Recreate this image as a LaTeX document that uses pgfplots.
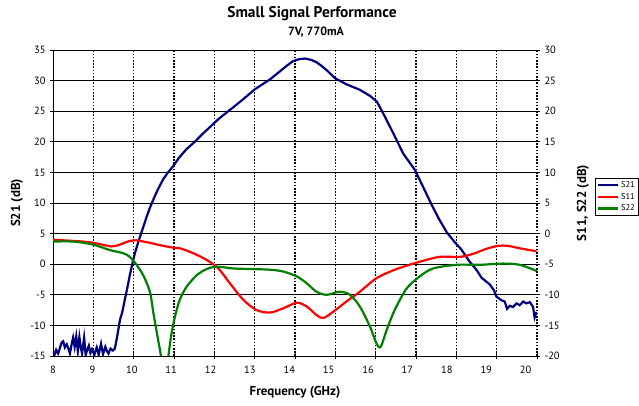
\documentclass[border=0pt]{standalone}
\usepackage{pgfplots}
\pgfplotsset{compat=1.18}
\usepackage{fontspec}
\setmainfont{PT Sans}
\definecolor{cS21}{RGB}{0,0,128}
\definecolor{cS11}{RGB}{255,0,0}
\definecolor{cS22}{RGB}{0,128,0}
\pgfplotsset{
  common/.style={
    at={(0,0)}, anchor=south west,
    scale only axis, width=484bp, height=306bp,
    xmin=8, xmax=20.29,
    /pgf/number format/assume math mode=true,
    tick label style={font=\fontsize{10.5}{12}\selectfont},
    clip=true,
  }
}
\begin{document}
\begin{tikzpicture}
\path[use as bounding box] (-53bp,-50bp) rectangle (586bp,356bp);
% horizontal grid
\begin{axis}[common, ymin=-15, ymax=35,
  xtick=\empty, ytick={-15,-10,...,35}, yticklabels={},
  ymajorgrids, grid style={black, line width=0.7bp},
  axis line style={draw=none}, tick style={draw=none}]
\end{axis}
% left axis, vertical dotted grid, S21
\begin{axis}[common, ymin=-15, ymax=35,
  axis x line*=bottom, axis y line*=left,
  axis line style={black, line width=0.8bp},
  xtick={9.024,10.048,11.073,12.097,13.121,14.145,15.169,16.193,17.218,18.242,19.266,20.29},
  xticklabels={},
  xmajorgrids,
  grid style={black, line width=1.6bp, dash pattern=on 1.6bp off 1.6bp},
  extra x ticks={8,9,...,20},
  extra x tick style={grid=none, tick style={draw=none}},
  ytick={-15,-10,...,35},
  tick align=center, major tick length=6bp,
  tick style={black, line width=0.8bp},
  xticklabel style={yshift=-4bp},
  yticklabel style={xshift=-1bp},
  xlabel={\bfseries Frequency (GHz)},
  xlabel style={at={(axis description cs:0.5,-0.1176)}, anchor=center, font=\fontsize{13}{15}\selectfont},
  ylabel={\bfseries S21 (dB)},
  ylabel style={at={(axis description cs:-0.0744,0.5)}, anchor=center, font=\fontsize{13}{15}\selectfont},
]
\addplot[color=cS21, line width=2.2bp] coordinates {
(8.00,-14.3)(8.04,-14.8)(8.08,-14.0)(8.13,-14.6)(8.18,-13.6)(8.22,-12.8)(8.26,-12.6)(8.30,-13.6)
(8.35,-13.1)(8.39,-13.8)(8.43,-14.6)(8.47,-13.2)(8.51,-12.0)(8.55,-13.5)(8.59,-11.8)(8.63,-14.2)
(8.67,-11.9)(8.71,-13.8)(8.74,-14.6)(8.79,-12.0)(8.83,-14.8)(8.87,-14.0)(8.91,-13.3)(8.95,-14.5)
(8.99,-13.9)(9.05,-14.8)(9.11,-13.6)(9.16,-14.8)(9.22,-13.0)(9.27,-14.7)(9.33,-13.5)(9.37,-14.2)
(9.41,-14.6)(9.46,-13.8)(9.52,-14.1)(9.57,-13.8)(9.63,-11.8)(9.70,-9.1)(9.76,-7.8)(9.83,-5.6)
(9.89,-3.8)(9.95,-1.8)(10.02,0.2)(10.08,1.8)(10.15,3.3)(10.21,4.5)(10.30,6.2)(10.38,7.8)
(10.46,9.2)(10.55,10.6)(10.67,12.3)(10.80,13.9)(10.92,15.0)(11.05,16.0)(11.20,17.4)(11.39,18.8)
(11.60,20.0)(11.80,21.3)(12.00,22.5)(12.20,23.7)(12.45,25.0)(12.57,25.6)(12.80,26.8)(13.13,28.6)
(13.51,30.2)(13.76,31.5)(13.95,32.5)(14.10,33.2)(14.25,33.5)(14.40,33.6)(14.55,33.4)(14.69,33.0)
(14.82,32.4)(14.95,31.7)(15.16,30.4)(15.45,29.4)(15.79,28.5)(16.05,27.5)(16.22,26.6)(16.38,24.7)
(16.64,21.4)(16.89,18.1)(17.19,15.4)(17.40,12.6)(17.60,9.9)(17.80,7.4)(18.00,5.2)(18.20,3.6)
(18.37,2.4)(18.58,0.4)(18.75,-0.9)(18.88,-2.2)(19.09,-3.3)(19.20,-4.3)(19.26,-5.3)(19.39,-5.9)
(19.47,-6.1)(19.53,-7.3)(19.60,-6.8)(19.68,-7.0)(19.77,-6.4)(19.85,-6.7)(19.94,-6.1)(20.02,-6.4)
(20.11,-6.2)(20.19,-7.0)(20.23,-8.7)(20.28,-7.8)
};
\end{axis}
% right axis, S11 and S22
\begin{axis}[common, ymin=-20, ymax=30,
  axis x line=none, axis y line*=right,
  y axis line style={draw=none},
  ytick={-20,-15,...,30},
  tick align=center, major tick length=6bp,
  tick style={black, line width=0.8bp},
  yticklabel style={xshift=1bp},
  ylabel={\bfseries S11, S22 (dB)},
  ylabel style={at={(axis description cs:1.095,0.5)}, anchor=center, font=\fontsize{13}{15}\selectfont},
  legend style={at={(axis description cs:1.12,0.582)}, anchor=north west,
    draw=black, line width=0.6bp, font=\fontsize{8.5}{9.5}\selectfont,
    inner sep=1.5bp, row sep=0bp, fill=white},
  legend cell align=left,
  legend image code/.code={\draw[#1] (0bp,0bp) -- (20bp,0bp);},
]
\addlegendimage{color=cS21, line width=2bp}
\addlegendentry{S21}
\addplot[color=cS11, line width=2.2bp, smooth, tension=0.5] coordinates {
(8.00,-1.0)(8.25,-1.1)(8.52,-1.2)(8.75,-1.3)(9.02,-1.5)(9.25,-1.8)(9.49,-2.1)(9.65,-1.9)
(9.78,-1.6)(9.95,-1.2)(10.12,-1.1)(10.29,-1.3)(10.46,-1.5)(10.72,-1.9)(11.05,-2.3)(11.22,-2.4)
(11.56,-3.2)(11.90,-4.3)(12.20,-5.7)(12.49,-8.1)(12.83,-10.8)(13.17,-12.5)(13.51,-12.9)(13.85,-12.2)
(14.19,-11.3)(14.44,-11.9)(14.69,-13.3)(14.86,-13.8)(15.11,-12.8)(15.45,-11.1)(15.79,-9.5)(16.21,-7.3)
(16.64,-6.0)(17.00,-5.2)(17.31,-4.6)(17.82,-3.8)(18.33,-3.8)(18.67,-3.3)(19.00,-2.5)(19.30,-2.0)
(19.55,-2.0)(19.85,-2.4)(20.28,-2.9)
};
\addlegendentry{S11}
\addplot[color=cS22, line width=2.2bp, smooth, tension=0.5] coordinates {
(8.00,-1.3)(8.52,-1.3)(9.02,-1.8)(9.45,-2.7)(9.78,-3.2)(9.95,-3.8)(10.12,-5.1)(10.29,-6.8)
(10.46,-9.5)(10.55,-13.0)(10.67,-17.4)(10.74,-20.0)(10.84,-25.0)(10.93,-20.0)(11.01,-16.3)(11.10,-13.5)
(11.22,-10.8)(11.39,-8.7)(11.65,-6.8)(11.90,-5.8)(12.15,-5.4)(12.58,-5.7)(13.08,-5.8)(13.51,-5.9)
(13.85,-6.2)(14.19,-7.0)(14.44,-8.1)(14.69,-9.5)(14.95,-10.0)(15.28,-9.5)(15.54,-10.0)(15.79,-11.9)
(16.05,-15.2)(16.21,-17.9)(16.32,-18.5)(16.47,-15.8)(16.64,-13.0)(16.81,-10.8)(17.00,-8.8)(17.31,-7.0)
(17.65,-5.7)(18.25,-5.1)(18.84,-5.1)(19.43,-4.9)(19.85,-5.1)(20.28,-6.1)
};
\addlegendentry{S22}
\end{axis}
\node[font=\bfseries\fontsize{15.5}{18}\selectfont] at (259bp,342bp) {Small Signal Performance};
\node[font=\bfseries\fontsize{12}{14}\selectfont] at (263bp,324bp) {7V, 770mA};
\end{tikzpicture}
\end{document}
